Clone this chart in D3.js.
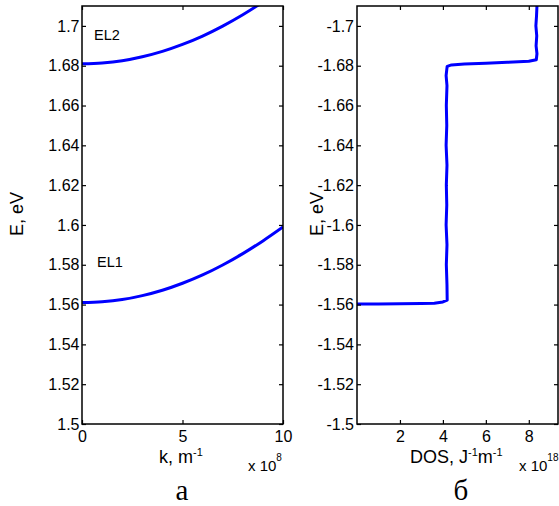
<!DOCTYPE html>
<html>
<head>
<meta charset="utf-8">
<script src="https://cdn.jsdelivr.net/npm/d3@7"></script>
<style>
  html, body { margin: 0; padding: 0; background: #fff; }
  svg { display: block; }
  .tick text { font-family: "Liberation Sans", Arial, sans-serif; font-size: 16px; fill: #000; }
  .tick line { stroke: #000; stroke-width: 1.2; }
  .ttl { font-family: "Liberation Sans", Arial, sans-serif; fill: #000; }
  .cap { font-family: "Liberation Serif", "Times New Roman", serif; font-size: 29px; fill: #000; }
</style>
</head>
<body>
<svg id="fig" width="559" height="506"></svg>
<script>
// Panel (а): dispersion E(k) of the two electron subbands, k in units of 1e8 m^-1
const kValues = [0, 1, 2, 3, 4, 5, 6, 7, 8, 9, 10];
const el1Energy = [1.561, 1.5614, 1.5625, 1.5645, 1.5672, 1.5707, 1.5749, 1.5799, 1.5856, 1.592, 1.599];
const el2Energy = [1.681, 1.6814, 1.6825, 1.6845, 1.6872, 1.6907, 1.6949, 1.6999, 1.7056, 1.712, 1.719];
const kTicks = [0, 5, 10];
const eTicksA = [1.5, 1.52, 1.54, 1.56, 1.58, 1.6, 1.62, 1.64, 1.66, 1.68, 1.7];

// Panel (б): density of states, DOS in units of 1e18 J^-1 m^-1
const dosValues = [0, 1, 2, 3, 3.6, 4.0, 4.2,
  4.19, 4.16, 4.19, 4.15, 4.18, 4.16, 4.19, 4.15, 4.18, 4.16, 4.19, 4.15, 4.18, 4.2,
  4.4, 5, 6, 7, 8, 8.35,
  8.38, 8.34, 8.37, 8.33, 8.36, 8.38, 8.35];
const dosEnergy = [-1.5603, -1.5603, -1.5604, -1.5605, -1.5607, -1.5613, -1.5622,
  -1.57, -1.58, -1.59, -1.60, -1.61, -1.62, -1.63, -1.64, -1.65, -1.66, -1.67, -1.675, -1.678, -1.6797,
  -1.6804, -1.6808, -1.6812, -1.6817, -1.6822, -1.6830,
  -1.686, -1.69, -1.695, -1.70, -1.705, -1.71, -1.713];
const dosTicks = [2, 4, 6, 8];
const eTicksB = [-1.5, -1.52, -1.54, -1.56, -1.58, -1.6, -1.62, -1.64, -1.66, -1.68, -1.7];

const svg = d3.select("#fig");
const plotTop = 6, plotBottom = 424;
const blue = "#0000ff";

function frame(g, x, y, xTicks, yTicks, xFmt, yFmt, yPad) {
  const [x0, x1] = x.range();
  const [y0, y1] = y.range();
  const ax = [
    { a: d3.axisBottom(x).tickValues(xTicks).tickFormat(xFmt).tickPadding(7), t: `translate(0,${y0})` },
    { a: d3.axisTop(x).tickValues(xTicks).tickFormat(""), t: `translate(0,${y1})` },
    { a: d3.axisLeft(y).tickValues(yTicks).tickFormat(yFmt).tickPadding(yPad), t: `translate(${x0},0)` },
    { a: d3.axisRight(y).tickValues(yTicks).tickFormat(""), t: `translate(${x1},0)` }
  ];
  ax.forEach(d => {
    const s = g.append("g").attr("transform", d.t).call(d.a.tickSizeInner(-4).tickSizeOuter(0));
    s.select(".domain").remove();
  });
  g.append("rect")
    .attr("x", x0).attr("y", y1)
    .attr("width", x1 - x0).attr("height", y0 - y1)
    .attr("fill", "none").attr("stroke", "#000").attr("stroke-width", 1.5);
}

function clip(id, x, y) {
  const [x0, x1] = x.range();
  const [y0, y1] = y.range();
  svg.append("clipPath").attr("id", id)
    .append("rect").attr("x", x0).attr("y", y1).attr("width", x1 - x0).attr("height", y0 - y1);
}

// ---- panel (а) ----
const xA = d3.scaleLinear().domain([0, 10]).range([82, 283]);
const yA = d3.scaleLinear().domain([1.5, 1.71]).range([plotBottom, plotTop]);
clip("clipA", xA, yA);
const gA = svg.append("g");
const lineA = d3.line().x(d => xA(d[0])).y(d => yA(d[1])).curve(d3.curveMonotoneX);
[el1Energy, el2Energy].forEach(series => {
  gA.append("path")
    .datum(kValues.map((k, i) => [k, series[i]]))
    .attr("clip-path", "url(#clipA)")
    .attr("d", lineA)
    .attr("fill", "none").attr("stroke", blue).attr("stroke-width", 3);
});
frame(gA, xA, yA, kTicks, eTicksA, d3.format("d"), d => String(+d.toFixed(2)), 2.5);

gA.append("text").attr("class", "ttl").attr("x", 94).attr("y", 40).style("font-size", "14.5px").text("EL2");
gA.append("text").attr("class", "ttl").attr("x", 97).attr("y", 267).style("font-size", "14.5px").text("EL1");

gA.append("text").attr("class", "ttl").style("font-size", "18px")
  .attr("transform", "translate(23,214) rotate(-90)").attr("text-anchor", "middle").text("E, eV");
const kt = gA.append("text").attr("class", "ttl").style("font-size", "18px")
  .attr("x", 181).attr("y", 463).attr("text-anchor", "middle");
kt.append("tspan").text("k, m");
kt.append("tspan").attr("dy", -7).style("font-size", "11px").text("-1");
const xa = gA.append("text").attr("class", "ttl").style("font-size", "15px").attr("x", 248).attr("y", 471);
xa.append("tspan").text("x 10");
xa.append("tspan").attr("dy", -10).style("font-size", "10px").text("8");
gA.append("text").attr("class", "cap").attr("x", 182).attr("y", 500).attr("text-anchor", "middle").text("а");

// ---- panel (б) ----
const xB = d3.scaleLinear().domain([0, 9.36]).range([357, 558]);
const yB = d3.scaleLinear().domain([-1.5, -1.71]).range([plotBottom, plotTop]);
clip("clipB", xB, yB);
const gB = svg.append("g");
gB.append("path")
  .datum(dosValues.map((v, i) => [v, dosEnergy[i]]))
  .attr("clip-path", "url(#clipB)")
  .attr("d", d3.line().x(d => xB(d[0])).y(d => yB(d[1])))
  .attr("fill", "none").attr("stroke", blue).attr("stroke-width", 3)
  .attr("stroke-linejoin", "round");
frame(gB, xB, yB, dosTicks, eTicksB, d3.format("d"), d => String(+d.toFixed(2)), 3);

gB.append("text").attr("class", "ttl").style("font-size", "18px")
  .attr("transform", "translate(323,214) rotate(-90)").attr("text-anchor", "middle").text("E, eV");
const dt = gB.append("text").attr("class", "ttl").style("font-size", "18px")
  .attr("x", 410).attr("y", 463);
dt.append("tspan").text("DOS, J");
dt.append("tspan").attr("dy", -7).style("font-size", "11px").text("-1");
dt.append("tspan").attr("dy", 7).text("m");
dt.append("tspan").attr("dy", -7).style("font-size", "11px").text("-1");
const xb = gB.append("text").attr("class", "ttl").style("font-size", "15px").attr("x", 519).attr("y", 471);
xb.append("tspan").text("x 10");
xb.append("tspan").attr("dy", -10).style("font-size", "10px").text("18");
gB.append("text").attr("class", "cap").attr("x", 461).attr("y", 500).attr("text-anchor", "middle").text("б");
</script>
</body>
</html>
